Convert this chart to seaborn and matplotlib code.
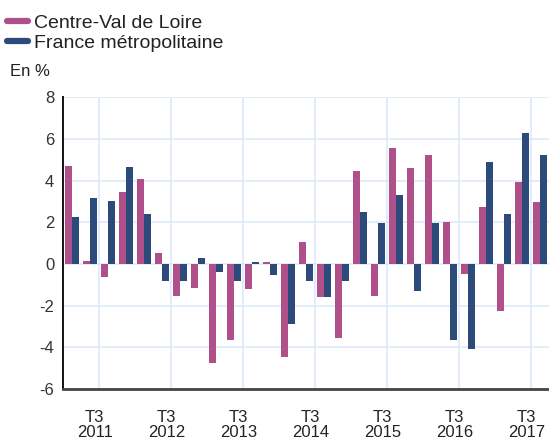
import pandas as pd
import matplotlib.pyplot as plt
import seaborn as sns
from matplotlib.lines import Line2D

# quarterly change, 2011 T1 -> 2017 T3
years = [2011, 2012, 2013, 2014, 2015, 2016, 2017]
quarters = [f"{y} T{q}" for y in years for q in range(1, 5)][:27]

centre = [4.7, 0.15, -0.6, 3.45,
          4.1, 0.55, -1.55, -1.15,
          -4.75, -3.65, -1.2, 0.1,
          -4.45, 1.05, -1.6, -3.55,
          4.45, -1.55, 5.55, 4.6,
          5.25, 2.0, -0.5, 2.75,
          -2.25, 3.95, 3.0]
france = [2.25, 3.15, 3.05, 4.65,
          2.4, -0.8, -0.8, 0.3,
          -0.4, -0.8, 0.1, -0.55,
          -2.9, -0.8, -1.6, -0.8,
          2.5, 1.95, 3.3, -1.3,
          1.95, -3.65, -4.1, 4.9,
          2.4, 6.3, 5.25]

series = ["Centre-Val de Loire", "France métropolitaine"]
colors = ["#b0508a", "#2c4a7a"]

df = pd.DataFrame({
    "trimestre": quarters * 2,
    "zone": [series[0]] * len(quarters) + [series[1]] * len(quarters),
    "valeur": centre + france,
})

sns.set_style("white")
plt.rcParams['font.family'] = ['Liberation Sans', 'DejaVu Sans']

fig = plt.figure(figsize=(5.49, 4.41), dpi=100)
ax = fig.add_axes([0.1142, 0.118, 0.8852, 0.661])

sns.barplot(data=df, x="trimestre", y="valeur", hue="zone", order=quarters,
            hue_order=series, palette=colors, width=0.78, saturation=1,
            linewidth=0, legend=False, ax=ax)

ax.set_xlim(-0.5, len(quarters) - 0.5)
ax.set_ylim(-6, 8)
ax.set_yticks(range(-6, 9, 2))
ax.set_yticklabels([str(v) for v in range(-6, 9, 2)], fontsize=12, color="#333333")

# year gridlines sit between T2 and T3, labels slightly left of them
grid_pos = [1.5 + 4 * k for k in range(len(years))]
ax.set_xticks(grid_pos)
ax.set_xticklabels([])
ax.set_xticks([p - 0.22 for p in grid_pos], minor=True)
ax.set_xticklabels([f"T3\n{y}" for y in years], minor=True, fontsize=12,
                   color="#222222", linespacing=1.05)
ax.tick_params(axis="x", which="both", length=0, pad=15)
ax.tick_params(axis="y", length=0, pad=6)

ax.grid(True, which="major", color="#dde9f9", linewidth=1.2)
ax.set_axisbelow(True)
ax.set_xlabel("")
ax.set_ylabel("")

for s in ["top", "right"]:
    ax.spines[s].set_visible(False)
ax.spines["left"].set_color("#111111")
ax.spines["left"].set_linewidth(1.4)
ax.spines["bottom"].set_color("#444444")
ax.spines["bottom"].set_linewidth(2)

handles = [Line2D([0], [0], color=c, lw=4.5) for c in colors]
fig.legend(handles, series, loc="upper left", bbox_to_anchor=(0.012, 0.968),
           frameon=False, fontsize=14, handlelength=1.1, handletextpad=0.3,
           labelspacing=0.12, borderpad=0, borderaxespad=0, labelcolor="#222222")

fig.text(10 / 549, 1 - 71 / 441, "En %", fontsize=12, va="center", color="#222222")

plt.savefig("out.png", dpi=100)
plt.close()
